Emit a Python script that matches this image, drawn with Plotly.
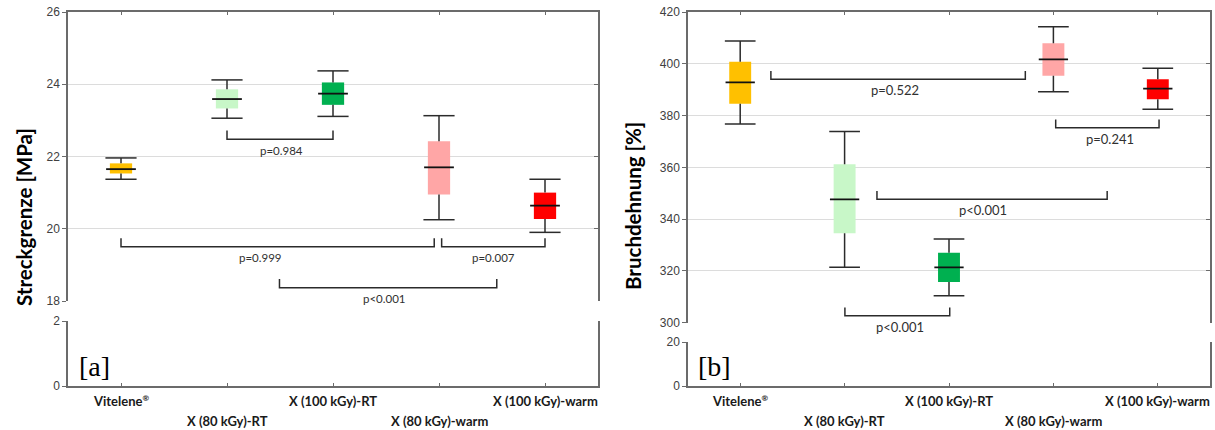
import plotly.graph_objects as go

W, H = 1215, 430

categories = ["Vitelene<sup><span style='font-size:8px'>®</span></sup>", "X (80 kGy)-RT",
              "X (100 kGy)-RT", "X (80 kGy)-warm", "X (100 kGy)-warm"]
box_colors = ["#FFC000", "#C8F7C8", "#00B050", "#FFA6A6", "#FF0000"]

# Panel [a]: Streckgrenze [MPa]
a_low = [21.37, 23.06, 23.11, 20.25, 19.90]
a_q1 = [21.53, 23.33, 23.43, 20.95, 20.27]
a_med = [21.65, 23.59, 23.74, 21.70, 20.64]
a_q3 = [21.81, 23.86, 24.05, 22.42, 21.00]
a_high = [21.96, 24.12, 24.37, 23.13, 21.37]

# Panel [b]: Bruchdehnung [%]
b_low = [376.7, 321.4, 310.4, 389.2, 382.4]
b_q1 = [384.6, 334.5, 315.7, 395.4, 386.3]
b_med = [392.8, 347.6, 321.4, 401.7, 390.4]
b_q3 = [400.8, 361.2, 327.0, 407.9, 394.0]
b_high = [408.8, 373.8, 332.3, 414.3, 398.3]

# significance brackets: start, end, level, label, label position
a_br_start = [1.0, 0.0, 3.025, 1.495]
a_br_end = [2.0, 2.955, 4.0, 3.545]
a_br_level = [22.48, 19.50, 19.50, 18.37]
a_br_label = ["p=0.984", "p=0.999", "p=0.007", "p<0.001"]
a_br_labx = [1.51, 1.32, 3.51, 2.49]

b_br_start = [0.294, 3.022, 1.310, 1.003]
b_br_end = [2.731, 4.012, 3.515, 2.007]
b_br_level = [394.0, 375.3, 347.7, 302.7]
b_br_label = ["p=0.522", "p=0.241", "p<0.001", "p<0.001"]
b_br_labx = [1.486, 3.544, 2.323, 1.532]

a_upper_ticks = [18, 20, 22, 24, 26]
a_lower_ticks = [0, 2]
b_upper_ticks = [300, 320, 340, 360, 380, 400, 420]
b_lower_ticks = [0, 20]

AXIS = "#6b6b6b"
GRID = "#dcdcdc"
DARK = "#2b2b2b"
TICKFONT = dict(family="Liberation Sans, Arial, sans-serif", size=12, color="#404040")

fig = go.Figure()


def py(p):
    return 1 - p / H


def px(p):
    return p / W


panels = [
    dict(xl=68, xr=598, up=(12, 301), low=(321, 386), ur=[18, 26], lr=[0, 2],
         ut=a_upper_ticks, lt=a_lower_ticks, data=(a_low, a_q1, a_med, a_q3, a_high),
         br=(a_br_start, a_br_end, a_br_level, a_br_label, a_br_labx), bh=0.24,
         ids=("", "2", "", "2", "3", "4"), title="Streckgrenze [MPa]", tx=24, ty=217,
         tag="[a]", tagx=94, pfs=11.5),
    dict(xl=688, xr=1210, up=(12, 322.7), low=(342, 386), ur=[300, 420], lr=[0, 20],
         ut=b_upper_ticks, lt=b_lower_ticks, data=(b_low, b_q1, b_med, b_q3, b_high),
         br=(b_br_start, b_br_end, b_br_level, b_br_label, b_br_labx), bh=3.2,
         ids=("3", "4", "5", "6", "7", "8"), title="Bruchdehnung [%]", tx=633, ty=206,
         tag="[b]", tagx=714, pfs=13),
]

layout = {}
annotations = []
xpos = list(range(len(categories)))

for P in panels:
    xlo, xup, ylo, ylor, yup, yupr = P["ids"]
    dom_x = [px(P["xl"]), px(P["xr"])]
    common_x = dict(domain=dom_x, range=[-0.5, 4.5], showline=True, linecolor=AXIS, linewidth=1.5,
                    ticks="inside", ticklen=3, tickcolor=AXIS, tickvals=xpos, automargin=False,
                    showticklabels=False, showgrid=False, zeroline=False, fixedrange=True)
    layout["xaxis" + xlo] = dict(common_x, anchor="y" + ylo, side="bottom")
    layout["xaxis" + xup] = dict(common_x, anchor="y" + yup, side="top")
    common_y = dict(showline=True, linecolor=AXIS, linewidth=1.5, mirror=True, ticks="outside",
                    ticklen=4, tickcolor=AXIS, tickfont=TICKFONT, showgrid=True, gridcolor=GRID,
                    gridwidth=1, zeroline=False, fixedrange=True, automargin=False)
    layout["yaxis" + ylo] = dict(common_y, domain=[py(P["low"][1]), py(P["low"][0])], range=P["lr"],
                                 tickvals=P["lt"], anchor="x" + xlo)
    layout["yaxis" + yup] = dict(common_y, domain=[py(P["up"][1]), py(P["up"][0])], range=P["ur"],
                                 tickvals=P["ut"], anchor="x" + xup)
    common_r = dict(side="right", ticks="inside", ticklen=4, tickcolor=AXIS, showline=False,
                    showticklabels=False, showgrid=False, zeroline=False, fixedrange=True,
                    automargin=False)
    layout["yaxis" + ylor] = dict(common_r, overlaying="y" + ylo, range=P["lr"], tickvals=P["lt"],
                                  anchor="x" + xlo)
    layout["yaxis" + yupr] = dict(common_r, overlaying="y" + yup, range=P["ur"], tickvals=P["ut"],
                                  anchor="x" + xup)

    # empty traces so that the overlay axes are drawn
    fig.add_trace(go.Scatter(x=[None], y=[None], xaxis="x" + xlo, yaxis="y" + ylor, showlegend=False,
                             hoverinfo="skip"))
    fig.add_trace(go.Scatter(x=[None], y=[None], xaxis="x" + xlo, yaxis="y" + ylo, showlegend=False,
                             hoverinfo="skip"))
    fig.add_trace(go.Scatter(x=[None], y=[None], xaxis="x" + xup, yaxis="y" + yupr, showlegend=False,
                             hoverinfo="skip"))

    low, q1, med, q3, high = P["data"]
    bw = 0.21
    cap_px = bw * (P["xr"] - P["xl"]) / 5.0
    xa, ya = "x" + xup, "y" + yup

    # boxes
    fig.add_trace(go.Bar(x=xpos, y=[b - a for a, b in zip(q1, q3)], base=q1, width=bw,
                         marker=dict(color=box_colors, line=dict(width=0)), xaxis=xa, yaxis=ya,
                         showlegend=False, hoverinfo="skip"))
    # whisker stems
    wx, wy = [], []
    for i in xpos:
        wx += [i, i, None, i, i, None]
        wy += [q3[i], high[i], None, q1[i], low[i], None]
    fig.add_trace(go.Scatter(x=wx, y=wy, mode="lines", line=dict(color=DARK, width=1.5),
                             xaxis=xa, yaxis=ya, showlegend=False, hoverinfo="skip"))
    # whisker caps
    fig.add_trace(go.Scatter(x=xpos + xpos, y=high + low, mode="markers",
                             marker=dict(symbol="line-ew", size=cap_px, line=dict(color=DARK, width=1.5)),
                             xaxis=xa, yaxis=ya, showlegend=False, hoverinfo="skip"))
    # medians
    fig.add_trace(go.Scatter(x=xpos, y=med, mode="markers",
                             marker=dict(symbol="line-ew", size=cap_px - 1,
                                         line=dict(color="#111111", width=1.8)),
                             xaxis=xa, yaxis=ya, showlegend=False, hoverinfo="skip"))

    # brackets
    s, e, lv, lab, lx = P["br"]
    bx, by = [], []
    for k in range(len(s)):
        bx += [s[k], s[k], e[k], e[k], None]
        by += [lv[k] + P["bh"], lv[k], lv[k], lv[k] + P["bh"], None]
        annotations.append(dict(x=lx[k], y=lv[k], xref=xa, yref=ya, text=lab[k], showarrow=False,
                                yshift=-11, xanchor="center", yanchor="middle",
                                font=dict(family="Lato, Liberation Sans, sans-serif", size=P["pfs"],
                                          color="#303030")))
    fig.add_trace(go.Scatter(x=bx, y=by, mode="lines", line=dict(color=DARK, width=1.5),
                             xaxis=xa, yaxis=ya, showlegend=False, hoverinfo="skip", cliponaxis=False))

    # category labels in two staggered rows
    for i, c in enumerate(categories):
        annotations.append(dict(x=i, y=py(400.5 if i % 2 == 0 else 420.5), xref="x" + xlo, yref="paper",
                                text="<b>" + c + "</b>", showarrow=False, xanchor="center",
                                yanchor="middle",
                                font=dict(family="Lato, Liberation Sans, sans-serif", size=13,
                                          color="#1a1a1a")))
    # axis title
    annotations.append(dict(x=px(P["tx"]), y=py(P["ty"]), xref="paper", yref="paper",
                            text="<b>" + P["title"] + "</b>", textangle=-90, showarrow=False,
                            xanchor="center", yanchor="middle",
                            font=dict(family="Lato, Open Sans, sans-serif", size=20.5, color="#000000")))
    # panel tag
    annotations.append(dict(x=px(P["tagx"]), y=py(366), xref="paper", yref="paper", text=P["tag"],
                            showarrow=False, xanchor="center", yanchor="middle",
                            font=dict(family="Liberation Serif, DejaVu Serif, serif", size=28,
                                      color="#000000")))

fig.update_layout(
    width=W, height=H, margin=dict(l=0, r=0, t=0, b=0, pad=0, autoexpand=False),
    paper_bgcolor="white", plot_bgcolor="white", barmode="overlay",
    showlegend=False, annotations=annotations, **layout,
)

fig.write_html("out.html", config={"displayModeBar": False})
